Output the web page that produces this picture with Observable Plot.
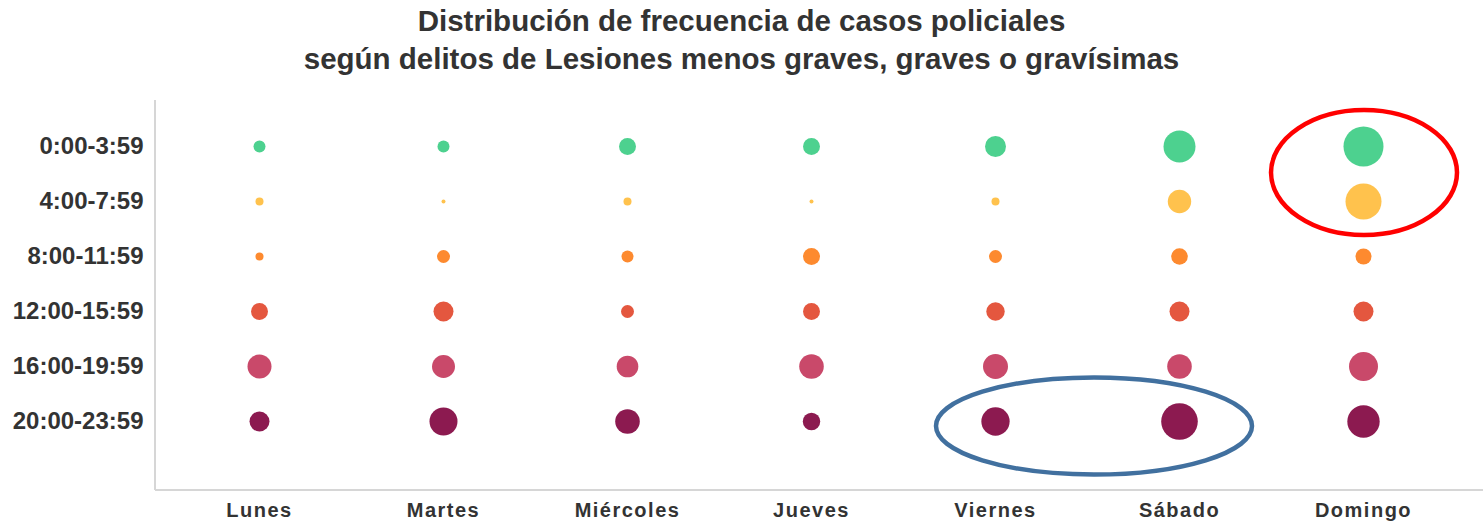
<!DOCTYPE html>
<html><head><meta charset="utf-8">
<script src="https://cdn.jsdelivr.net/npm/d3@7"></script>
<script src="https://cdn.jsdelivr.net/npm/@observablehq/plot@0.6"></script>
<style>
body{margin:0;background:#fff;font-family:"Liberation Sans",Arial,sans-serif;}
#title{height:90px;box-sizing:border-box;padding-top:2px;text-align:center;color:#333;font-weight:bold;font-size:29.5px;line-height:38px;}
#chart svg [aria-label^="x-axis"]{font:bold 20px "Liberation Sans",Arial,sans-serif;letter-spacing:1.5px;}
#chart svg [aria-label^="y-axis"]{font:bold 24px "Liberation Sans",Arial,sans-serif;}
</style></head><body>
<div id="title">Distribución de frecuencia de casos policiales<br>según delitos de Lesiones menos graves, graves o gravísimas</div>
<div id="chart"></div>
<script>
// Categories
const days = ["Lunes", "Martes", "Miércoles", "Jueves", "Viernes", "Sábado", "Domingo"];
const hours = ["0:00-3:59", "4:00-7:59", "8:00-11:59", "12:00-15:59", "16:00-19:59", "20:00-23:59"];
const hourColors = ["#4dd18f", "#ffc24d", "#fd8a2f", "#e4573f", "#c9496a", "#8c1a50"];

// Frequency of cases per day
const h00 = [36, 36, 72, 72, 110, 256, 400];
const h04 = [16, 4, 16, 4, 16, 137, 324];
const h08 = [16, 42, 36, 72, 42, 69, 64];
const h12 = [72, 100, 42, 72, 85, 100, 100];
const h16 = [144, 132, 117, 151, 156, 151, 210];
const h20 = [100, 196, 151, 76, 200, 335, 262];
const seriesByHour = [h00, h04, h08, h12, h16, h20];

// Highlight annotations
const highlightDays = [["Domingo"], ["Viernes", "Sábado"]];
const highlightHours = [["0:00-3:59", "4:00-7:59"], ["20:00-23:59"]];
const highlightColors = ["#ff0000", "#41709f"];
const highlightPad = [[93, 35], [66, 48.5]];
const highlightShift = [[1, -1], [7, 5]];

const data = [];
hours.forEach((h, i) => days.forEach((d, j) => data.push({day: d, hour: h, value: seriesByHour[i][j]})));

function axisLines(index, scales, values, dims) {
  const g = d3.create("svg:g").attr("stroke", "#d6d6d6").attr("stroke-width", 2);
  const left = dims.marginLeft, bottom = dims.height - dims.marginBottom;
  g.append("line").attr("x1", left).attr("x2", left).attr("y1", dims.marginTop).attr("y2", bottom);
  g.append("line").attr("x1", left).attr("x2", dims.width).attr("y1", bottom).attr("y2", bottom);
  return g.node();
}

function highlights(index, scales) {
  const g = d3.create("svg:g").attr("fill", "none");
  highlightDays.forEach((ds, k) => {
    const xs = ds.map(d => scales.x(d)), ys = highlightHours[k].map(h => scales.y(h));
    const cx = d3.mean(xs) + highlightShift[k][0], cy = d3.mean(ys) + highlightShift[k][1];
    const rx = (d3.max(xs) - d3.min(xs)) / 2 + highlightPad[k][0];
    const ry = (d3.max(ys) - d3.min(ys)) / 2 + highlightPad[k][1];
    g.append("ellipse").attr("cx", cx).attr("cy", cy).attr("rx", rx).attr("ry", ry)
      .attr("stroke", highlightColors[k]).attr("stroke-width", 4.5);
  });
  return g.node();
}

const chart = Plot.plot({
  width: 1483,
  height: 431,
  marginLeft: 155,
  marginRight: 16,
  marginTop: 10,
  marginBottom: 31,
  style: {color: "#333", background: "#fff"},
  x: {domain: days, type: "point", padding: 0.565, tickSize: 0, tickPadding: 12, label: null},
  y: {domain: hours, type: "point", padding: 1.02, align: 0.4, tickSize: 0, tickPadding: 12, label: null},
  r: {type: "sqrt", domain: [0, 400], range: [0, 20]},
  color: {domain: hours, range: hourColors},
  marks: [
    axisLines,
    Plot.dot(data, {x: "day", y: "hour", r: "value", fill: "hour", stroke: null}),
    highlights
  ]
});
document.getElementById("chart").appendChild(chart);
</script>
</body></html>
